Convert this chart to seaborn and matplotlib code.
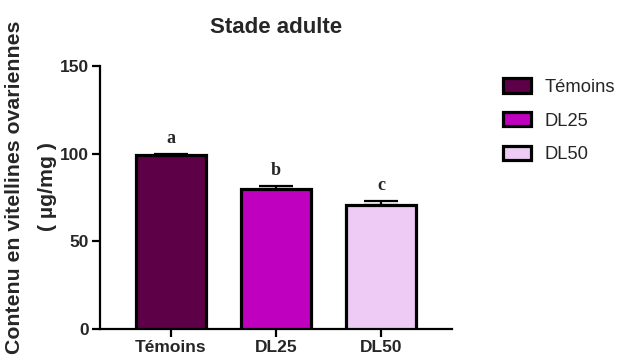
import matplotlib
matplotlib.use("Agg")
import matplotlib.pyplot as plt
import seaborn as sns
import pandas as pd
from matplotlib.patches import Patch

# Data
groups = ["Témoins", "DL25", "DL50"]
means = [99.0, 80.0, 71.0]
errors = [0.6, 1.5, 1.8]
letters = ["a", "b", "c"]
colors = ["#5E0048", "#BF00BF", "#EECBF5"]

df = pd.DataFrame({"Groupe": groups, "Valeur": means})

sns.set_style("ticks")
plt.rcParams["font.family"] = ["Liberation Sans", "DejaVu Sans"]

fig = plt.figure(figsize=(6.3, 3.64), dpi=100)
ax = fig.add_axes([100 / 630, 1 - 329 / 364, 352 / 630, 263 / 364])

sns.barplot(data=df, x="Groupe", y="Valeur", hue="Groupe", palette=colors,
            saturation=1, width=0.667, edgecolor="black", linewidth=2.3,
            errorbar=None, legend=False, ax=ax, zorder=3)

# upper error bars only
ax.errorbar(range(len(groups)), means, yerr=[[0] * len(groups), errors],
            fmt="none", ecolor="black", elinewidth=1.6, capsize=12,
            capthick=1.6, zorder=4)

for i, (m, e, lt) in enumerate(zip(means, errors, letters)):
    ax.text(i, m + e + 4, lt, ha="center", va="bottom", fontsize=13,
            fontweight="bold", family=["Liberation Serif", "DejaVu Serif"])

ax.set_ylim(0, 150)
ax.set_xlim(-0.676, 2.676)
ax.set_yticks([0, 50, 100, 150])
ax.set_xlabel("")
ax.set_ylabel("Contenu en vitellines ovariennes\n( µg/mg )", fontsize=15.3,
              fontweight="bold", linespacing=1.95)
ax.yaxis.set_label_coords(-0.122, 0.54)
ax.set_title("Stade adulte", fontsize=16, fontweight="bold", pad=24)

for lab in ax.get_xticklabels() + ax.get_yticklabels():
    lab.set_fontweight("bold")
ax.tick_params(axis="both", labelsize=12.5, width=1.6, length=6, color="black",
               pad=2)
for s in ["left", "bottom"]:
    ax.spines[s].set_linewidth(1.6)
    ax.spines[s].set_color("black")
sns.despine(ax=ax)

handles = [Patch(facecolor=c, edgecolor="black", linewidth=2.3) for c in colors]
fig.legend(handles, groups, loc="upper left", bbox_to_anchor=(0.773, 0.83),
           frameon=False, fontsize=13.2, handlelength=1.48, handleheight=0.82,
           labelspacing=0.88, handletextpad=0.75)

fig.savefig("out.png", dpi=100)
